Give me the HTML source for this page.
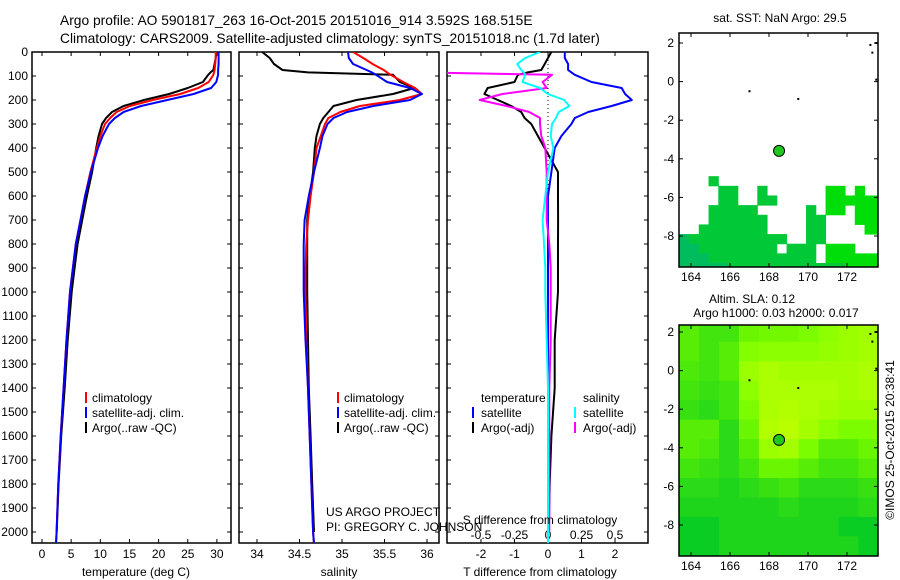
<!DOCTYPE html>
<html><head><meta charset="utf-8"><style>
body{margin:0;background:#fff;}
svg{display:block;font-family:"Liberation Sans",sans-serif;}
</style></head><body>
<svg id="fig" width="900" height="580" viewBox="0 0 900 580">
<g id="static" font-size="12" fill="#000">
<text x="60" y="25" font-size="13.8">Argo profile: AO 5901817_263 16-Oct-2015 20151016_914 3.592S 168.515E</text>
<text x="60" y="43" font-size="13.8">Climatology: CARS2009. Satellite-adjusted climatology: synTS_20151018.nc (1.7d later)</text>
<text x="136" y="576" text-anchor="middle">temperature (deg C)</text>
<text x="339" y="576" text-anchor="middle">salinity</text>
<text x="540" y="576" text-anchor="middle">T difference from climatology</text>
<text x="540" y="524" text-anchor="middle">S difference from climatology</text>
<text x="326" y="516">US ARGO PROJECT</text>
<text x="326" y="531">PI: GREGORY C. JOHNSON</text>
<g>
<line x1="86" y1="392" x2="86" y2="403" stroke="red" stroke-width="2"/><text x="92" y="402">climatology</text>
<line x1="86" y1="407" x2="86" y2="418" stroke="blue" stroke-width="2"/><text x="92" y="417">satellite-adj. clim.</text>
<line x1="86" y1="422" x2="86" y2="433" stroke="black" stroke-width="2"/><text x="92" y="432">Argo(..raw -QC)</text>
</g>
<g>
<line x1="338" y1="392" x2="338" y2="403" stroke="red" stroke-width="2"/><text x="344" y="402">climatology</text>
<line x1="338" y1="407" x2="338" y2="418" stroke="blue" stroke-width="2"/><text x="344" y="417">satellite-adj. clim.</text>
<line x1="338" y1="422" x2="338" y2="433" stroke="black" stroke-width="2"/><text x="344" y="432">Argo(..raw -QC)</text>
</g>
<g>
<text x="481" y="402">temperature</text><text x="583" y="402">salinity</text>
<line x1="473" y1="407" x2="473" y2="418" stroke="blue" stroke-width="2"/><text x="481" y="417">satellite</text>
<line x1="473" y1="422" x2="473" y2="433" stroke="black" stroke-width="2"/><text x="481" y="432">Argo(-adj)</text>
<line x1="575" y1="407" x2="575" y2="418" stroke="cyan" stroke-width="2"/><text x="583" y="417">satellite</text>
<line x1="575" y1="422" x2="575" y2="433" stroke="magenta" stroke-width="2"/><text x="583" y="432">Argo(-adj)</text>
</g>
<text x="780" y="22" text-anchor="middle">sat. SST: NaN Argo: 29.5</text>
<text x="752" y="303" text-anchor="middle">Altim. SLA: 0.12</text>
<text x="776" y="317" text-anchor="middle">Argo h1000: 0.03 h2000: 0.017</text>
<text transform="translate(894,440) rotate(-90)" text-anchor="middle">©IMOS 25-Oct-2015 20:38:41</text>
</g>
</svg>
<script>
const depths=[0,25,50,75,85,95,125,150,175,200,225,250,275,300,350,400,500,600,700,800,900,1000,1200,1400,1600,1800,2000,2050];
const tClim=[29.8,29.8,29.7,29.6,29.5,29.4,28.6,26.8,23.7,19,15.1,12.8,11.7,10.8,10,9.4,8.3,7.4,6.6,5.8,5.3,4.8,4.2,3.7,3.2,2.8,2.5,2.4];
const tSat=[30.3,30.3,30.3,30.2,30.2,30.2,29.9,29,26,21.5,17,14,12.5,11.5,10.4,9.6,8.4,7.4,6.6,5.8,5.3,4.8,4.2,3.7,3.2,2.8,2.5,2.4];
const tArgo=[29.9,29.8,29.6,29.4,28.9,28.5,27.6,25,21.8,17.5,14,12,11,10.3,9.7,9.3,8.6,7.7,6.9,6.1,5.6,5.1,4.4,3.9,3.3,2.85,2.52,null];
const sClim=[35.13,35.25,35.36,35.49,35.53,35.57,35.72,35.86,35.94,35.68,35.21,34.98,34.84,34.8,34.75,34.7,34.67,34.63,34.6,34.58,34.57,34.57,34.58,34.6,34.62,34.64,34.66,34.67];
const sSat=[35.07,35.08,35.13,35.29,35.35,35.4,35.53,35.8,35.94,35.8,35.37,35.06,34.9,34.83,34.77,34.74,34.67,34.61,34.56,34.55,34.55,34.55,34.57,34.6,34.62,34.64,34.66,34.67];
const sArgo=[34.06,34.15,34.2,34.3,34.6,35.6,35.68,35.85,35.6,35.17,34.9,34.84,34.78,34.74,34.7,34.68,34.66,34.62,34.59,34.59,34.59,34.59,34.6,34.61,34.63,34.65,34.67,null];
const depthTicks=[0,100,200,300,400,500,600,700,800,900,1000,1100,1200,1300,1400,1500,1600,1700,1800,1900,2000];
const tempTicks=[0,5,10,15,20,25,30];
const salTicks=[34,34.5,35,35.5,36];
const salTickLabels=["34","34.5","35","35.5","36"];
const dTTicks=[-2,-1,0,1,2];
const dSTicks=[-0.5,-0.25,0,0.25,0.5];
const dSTickLabels=["-0.5","-0.25","0","0.25","0.5"];
const mapLonTicks=[164,166,168,170,172];
const mapLatTicks=[2,0,-2,-4,-6,-8];
const argoLon=168.515, argoLat=-3.592;
const sstRows=["...b.................","....bb..b......cc.c..","....bb..bb.....cccccc","...bbbbb.....b.cc.ccc","...bbbbbb....bb...ccc","..bbbbbbb....bb....cc","abbbbbbbbbb..bb......","aabbbbbbbb.bbb.ccc...","aaabbbbbbbbbbb.cccccc","aaaaabbbbbbbbbbbbcccc"];
const slaGrid=[
[0.3,0.2,0.2,0.4,0.45,0.45,0.5,0.6,0.7,0.75],
[0.3,0.2,0.3,0.55,0.6,0.6,0.6,0.65,0.7,0.75],
[0.25,0.2,0.3,0.7,0.8,0.75,0.75,0.75,0.75,0.8],
[0.2,0.15,0.2,0.6,0.8,0.8,0.8,0.8,0.75,0.8],
[0.15,0.1,0.2,0.5,0.8,0.85,0.8,0.75,0.7,0.7],
[0.3,0.3,0.1,0.4,0.85,0.9,0.75,0.6,0.5,0.5],
[0.3,0.25,0.1,0.3,0.7,0.75,0.5,0.3,0.3,0.4],
[0.2,0.15,0.1,0.2,0.4,0.4,0.3,0.2,0.2,0.3],
[0.1,0.1,0.05,0.1,0.15,0.2,0.1,0.1,0.1,0.15],
[0.05,0.05,0.05,0.05,0.05,0.1,0.05,0.05,0.05,0.1],
[0,0,0.05,0.05,0.05,0.05,0.05,0.05,0,0],
[0,0,0.05,0.05,0.05,0.05,0.05,0.05,0.05,0]];

const NS="http://www.w3.org/2000/svg";
const svg=document.getElementById('fig');
function mk(tag,attrs,parent){const e=document.createElementNS(NS,tag);for(const k in attrs)e.setAttribute(k,attrs[k]);(parent||svg).appendChild(e);return e;}
const yD=d=>52+0.24*d;
const xT=t=>42+5.83*t;
const xS=s=>257+85*(s-34);
const xdT=v=>548+33.5*v;
const xdS=v=>548+134*v;
const lonX=l=>691+19.5*(l-164);
const latY1=l=>43-19.3*(l-2);
const latY2=l=>latY1(l)+289;
const panels=[[32,231],[239,439],[447,648]];
const PT=52,PB=543;

const defs=mk('defs',{});
panels.forEach((p,i)=>{const c=mk('clipPath',{id:'clip'+i},defs);mk('rect',{x:p[0],y:PT,width:p[1]-p[0],height:PB-PT},c);});
[[33,267],[325,556]].forEach((m,i)=>{const c=mk('clipPath',{id:'mclip'+i},defs);mk('rect',{x:679,y:m[0],width:199,height:m[1]-m[0]},c);});

const sstG=mk('g',{'clip-path':'url(#mclip0)'});


const sstCol={a:'rgb(0,188,95)',b:'rgb(0,200,55)',c:'rgb(0,222,10)'};
sstRows.forEach((row,r)=>{for(let c=0;c<row.length;c++){const ch=row[c];if(ch==='.')continue;
 const lon0=163.4+0.5*c, lat0=-4.9-0.5*r;
 const e=mk('rect',{x:lonX(lon0),y:latY1(lat0),width:lonX(lon0+0.5)-lonX(lon0)+0.5,height:latY1(lat0-0.5)-latY1(lat0)+0.5,fill:sstCol[ch]},sstG);
 
 }});
const slaG=mk('g',{'clip-path':'url(#mclip1)'});


const nR=slaGrid.length,nC=slaGrid[0].length;
const lonMin=163.4,lonMax=173.6,latMax=2.5,latMin=-9.6;
function slaColor(v){const w=Math.pow(v,0.75);return `rgb(${Math.round(10+190*w)},${Math.round(205+50*Math.min(1,w*1.6))},${Math.round(35*(1-Math.min(1,w*2)))})`;}
slaGrid.forEach((row,r)=>row.forEach((v,c)=>{
 const l0=lonMin+(lonMax-lonMin)*c/nC,l1=lonMin+(lonMax-lonMin)*(c+1)/nC;
 const a0=latMax-(latMax-latMin)*r/nR,a1=latMax-(latMax-latMin)*(r+1)/nR;
 const e=mk('rect',{x:lonX(l0),y:latY2(a0),width:lonX(l1)-lonX(l0)+0.5,height:latY2(a1)-latY2(a0)+0.5,fill:slaColor(v)},slaG);
 
 }));
[[latY1,33,267,'sst'],[latY2,325,556,'sla']].forEach(([ly,top,bot,nm])=>{
 const g=mk('g',{});
 
 
 mk('rect',{x:679,y:top,width:199,height:bot-top,fill:'none',stroke:'#000','stroke-width':1.5},g);
 mapLonTicks.forEach(l=>{const x=lonX(l);mk('line',{x1:x,y1:top,x2:x,y2:top+4,stroke:'#000'},g);mk('line',{x1:x,y1:bot,x2:x,y2:bot-4,stroke:'#000'},g);
  const t=mk('text',{x:x,y:bot+14,'text-anchor':'middle','font-size':12},g);t.textContent=l;});
 mapLatTicks.forEach(l=>{const y=ly(l);mk('line',{x1:679,y1:y,x2:683,y2:y,stroke:'#000'},g);mk('line',{x1:878,y1:y,x2:874,y2:y,stroke:'#000'},g);
  const t=mk('text',{x:674,y:y+4,'text-anchor':'end','font-size':12},g);t.textContent=l;});
 [[167,-0.5],[169.5,-0.9],[173.5,0.1],[173.3,1.5],[173.2,1.9],[173.5,2.0]].forEach(p=>mk('rect',{x:lonX(p[0])-1,y:ly(p[1])-1,width:2,height:2,fill:'#000'},g));
 const m=mk('circle',{cx:lonX(argoLon),cy:ly(argoLat),r:5.5,fill:'#1ec81e',stroke:'#000','stroke-width':1});
 
 
});

panels.forEach((p,i)=>{
 const r=mk('rect',{x:p[0],y:PT,width:p[1]-p[0],height:PB-PT,fill:'none',stroke:'#000','stroke-width':1.5});
 
 
 depthTicks.forEach(d=>{const y=yD(d);mk('line',{x1:p[0],y1:y,x2:p[0]+4,y2:y,stroke:'#000'});mk('line',{x1:p[1],y1:y,x2:p[1]-4,y2:y,stroke:'#000'});});
});
depthTicks.forEach(d=>{const t=mk('text',{x:28,y:yD(d)+4,'text-anchor':'end','font-size':12});t.textContent=d;
 
 });
function xticks(vals,labels,fx,ly){vals.forEach((v,i)=>{const x=fx(v);mk('line',{x1:x,y1:PT,x2:x,y2:PT+4,stroke:'#000'});mk('line',{x1:x,y1:PB,x2:x,y2:PB-4,stroke:'#000'});
 const t=mk('text',{x:x,y:ly,'text-anchor':'middle','font-size':12});t.textContent=labels[i];
 
 });}
xticks(tempTicks,tempTicks.map(String),xT,558);
xticks(salTicks,salTickLabels,xS,558);
xticks(dTTicks,dTTicks.map(String),xdT,558);
dSTicks.forEach((v,i)=>{const t=mk('text',{x:xdS(v),y:539,'text-anchor':'middle','font-size':12});t.textContent=dSTickLabels[i];
 
 });
mk('line',{x1:548,y1:PT,x2:548,y2:PB,stroke:'#000','stroke-dasharray':'1,3'});

function series(vals,fx,color,clip,name){
 let d='',pen=false;
 vals.forEach((v,i)=>{if(v===null||v===undefined||isNaN(v)){pen=false;return;}
  d+=(pen?'L':'M')+fx(v).toFixed(1)+','+yD(depths[i]).toFixed(1);pen=true;});
 const e=mk('path',{d:d,fill:'none',stroke:color,'stroke-width':2,'clip-path':'url(#clip'+clip+')','stroke-linejoin':'round'});
 
 
}
const diff=(a,b)=>a.map((v,i)=>(v===null||b[i]===null)?null:v-b[i]);
series(tArgo,xT,'#000',0,'temp-argo-line');
series(tClim,xT,'red',0,'temp-climatology-line');
series(tSat,xT,'blue',0,'temp-satellite-line');
series(sArgo,xS,'#000',1,'salinity-argo-line');
series(sClim,xS,'red',1,'salinity-climatology-line');
series(sSat,xS,'blue',1,'salinity-satellite-line');
series(diff(tArgo,tClim),xdT,'#000',2,'t-diff-argo-line');
series(diff(tSat,tClim),xdT,'blue',2,'t-diff-satellite-line');
series(diff(sArgo,sClim),xdS,'magenta',2,'s-diff-argo-line');
series(diff(sSat,sClim),xdS,'cyan',2,'s-diff-satellite-line');
svg.appendChild(document.getElementById('static'));
</script>
</body></html>
